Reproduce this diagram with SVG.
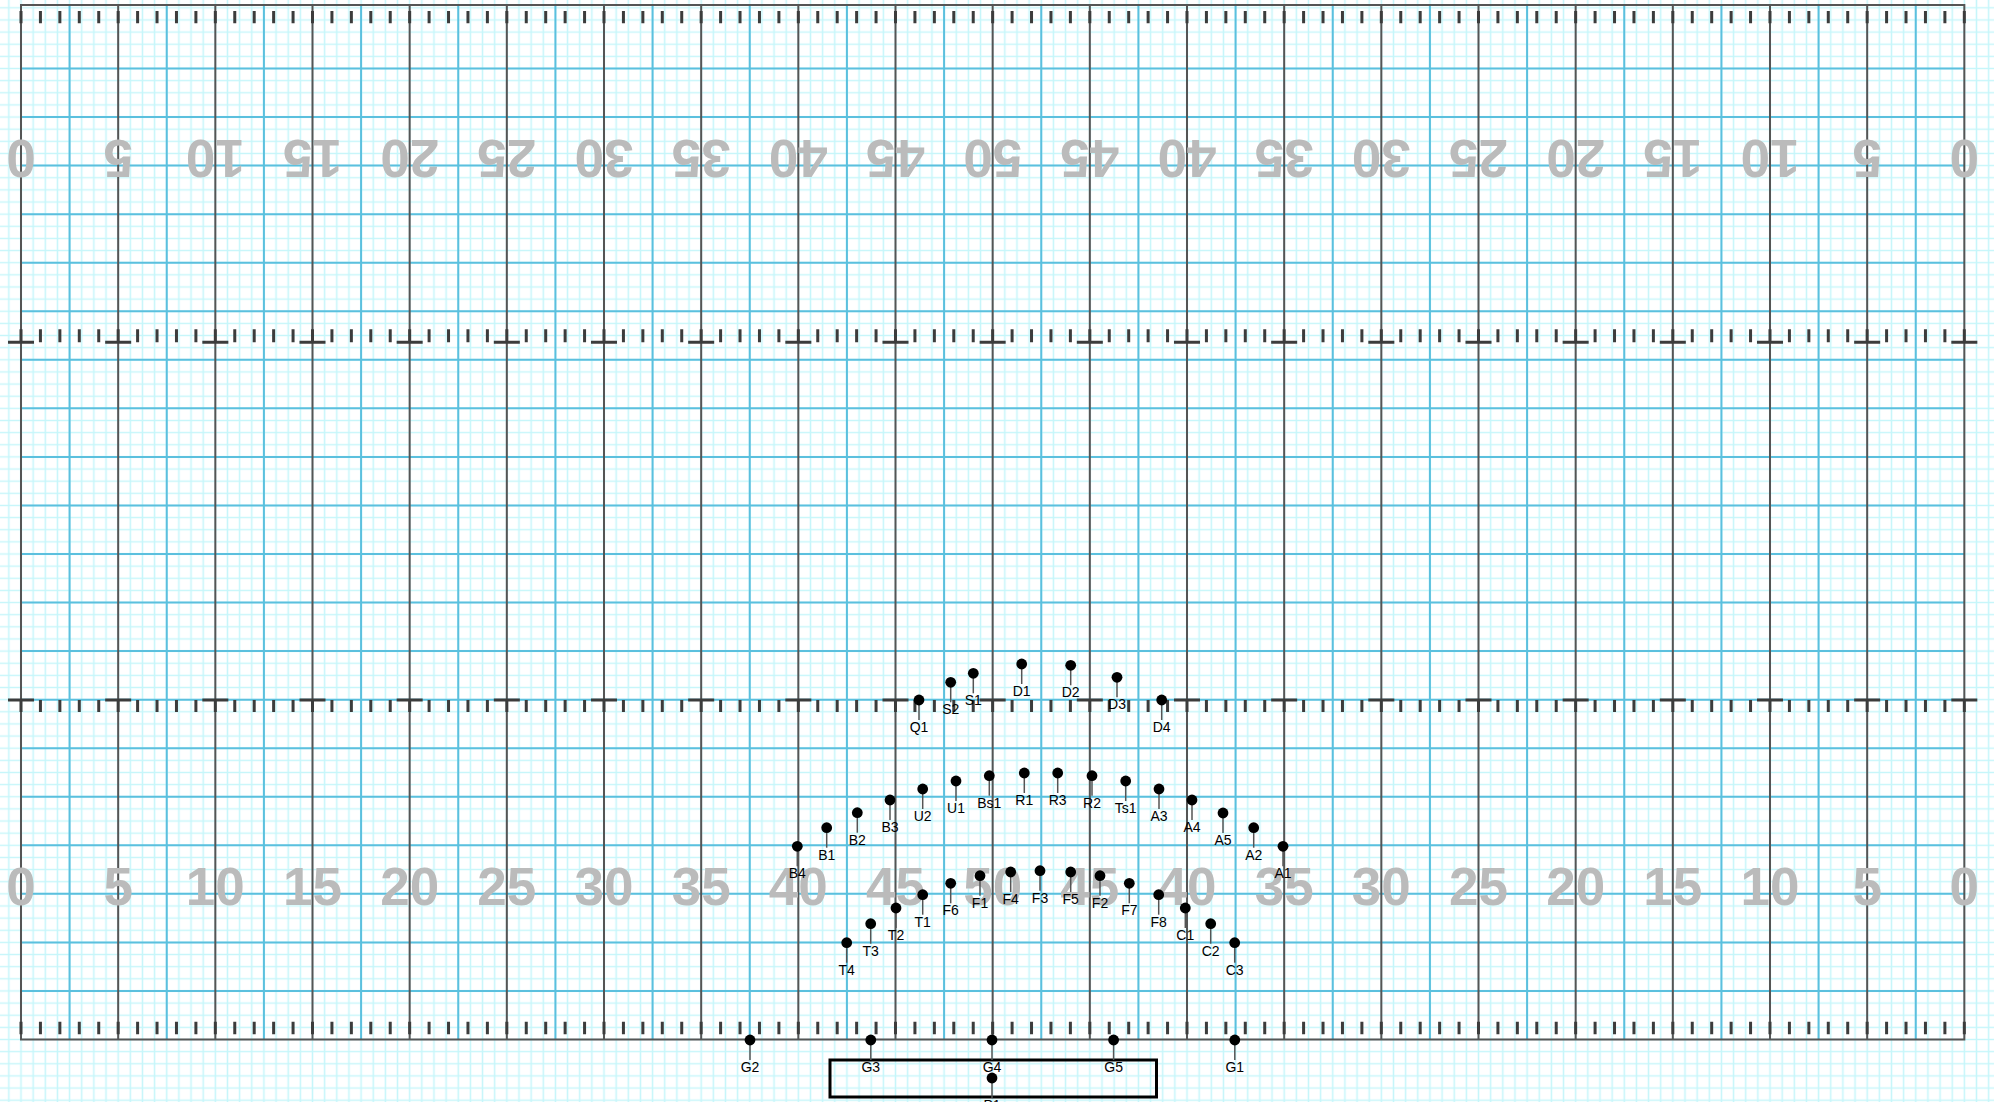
<svg xmlns="http://www.w3.org/2000/svg" width="1994" height="1102" viewBox="0 0 1994 1102">
<style>
.dark{stroke:#555;stroke-width:2;fill:none}
.blue{stroke:#5bc0de;stroke-width:2;fill:none}
.tick{stroke:#3c3c3c;fill:none;stroke-dasharray:3 16.4332}
.bar{stroke:#3c3c3c;fill:none;stroke-width:3;stroke-dasharray:26 71.166}
.num{font-family:"Liberation Sans",Arial,sans-serif;font-weight:bold;font-size:53px;fill:#bbbbbb;text-anchor:middle}
.dot{fill:#000}
.lead{stroke:#555;stroke-width:1.5}
.lbl{font-family:"Liberation Sans",Arial,sans-serif;font-size:14px;fill:#000;text-anchor:middle}
</style>
<defs>
<pattern id="fine" x="14.927" y="1033.431" width="12.146" height="12.1375" patternUnits="userSpaceOnUse">
<path d="M6.073 0V12.1375M0 6.069H12.146" stroke="#c6f6fa" stroke-width="1.5" fill="none"/>
</pattern>
</defs>
<rect x="0" y="0" width="1994" height="1102" fill="#fff"/>
<rect x="0" y="0" width="1994" height="1102" fill="url(#fine)"/>
<g id="field">
<path class="blue" d="M21 990.95H1964.33M21 942.4H1964.33M21 893.85H1964.33M21 845.3H1964.33M21 796.75H1964.33M21 748.2H1964.33M21 699.65H1964.33M21 651.1H1964.33M21 602.55H1964.33M21 554H1964.33M21 505.45H1964.33M21 456.9H1964.33M21 408.35H1964.33M21 359.8H1964.33M21 311.25H1964.33M21 262.7H1964.33M21 214.15H1964.33M21 165.6H1964.33M21 117.05H1964.33M21 68.5H1964.33"/>
<path class="blue" d="M69.58 5V1039.5M166.75 5V1039.5M263.92 5V1039.5M361.08 5V1039.5M458.25 5V1039.5M555.42 5V1039.5M652.58 5V1039.5M749.75 5V1039.5M846.92 5V1039.5M944.08 5V1039.5M1041.25 5V1039.5M1138.42 5V1039.5M1235.58 5V1039.5M1332.75 5V1039.5M1429.92 5V1039.5M1527.08 5V1039.5M1624.25 5V1039.5M1721.42 5V1039.5M1818.58 5V1039.5M1915.75 5V1039.5"/>
<path class="dark" d="M21 5V1039.5M118.17 5V1039.5M215.33 5V1039.5M312.5 5V1039.5M409.67 5V1039.5M506.83 5V1039.5M604 5V1039.5M701.17 5V1039.5M798.33 5V1039.5M895.5 5V1039.5M992.67 5V1039.5M1089.83 5V1039.5M1187 5V1039.5M1284.17 5V1039.5M1381.33 5V1039.5M1478.5 5V1039.5M1575.67 5V1039.5M1672.83 5V1039.5M1770 5V1039.5M1867.17 5V1039.5M1964.33 5V1039.5M20 5H1965.33M20 1039.5H1965.33"/>
</g>
<g id="yard-numbers">
<text class="num" transform="translate(21,140) rotate(180)">0</text>
<text class="num" transform="translate(118.17,140) rotate(180)">5</text>
<text class="num" transform="translate(215.33,140) rotate(180)">10</text>
<text class="num" transform="translate(312.5,140) rotate(180)">15</text>
<text class="num" transform="translate(409.67,140) rotate(180)">20</text>
<text class="num" transform="translate(506.83,140) rotate(180)">25</text>
<text class="num" transform="translate(604,140) rotate(180)">30</text>
<text class="num" transform="translate(701.17,140) rotate(180)">35</text>
<text class="num" transform="translate(798.33,140) rotate(180)">40</text>
<text class="num" transform="translate(895.5,140) rotate(180)">45</text>
<text class="num" transform="translate(992.67,140) rotate(180)">50</text>
<text class="num" transform="translate(1089.83,140) rotate(180)">45</text>
<text class="num" transform="translate(1187,140) rotate(180)">40</text>
<text class="num" transform="translate(1284.17,140) rotate(180)">35</text>
<text class="num" transform="translate(1381.33,140) rotate(180)">30</text>
<text class="num" transform="translate(1478.5,140) rotate(180)">25</text>
<text class="num" transform="translate(1575.67,140) rotate(180)">20</text>
<text class="num" transform="translate(1672.83,140) rotate(180)">15</text>
<text class="num" transform="translate(1770,140) rotate(180)">10</text>
<text class="num" transform="translate(1867.17,140) rotate(180)">5</text>
<text class="num" transform="translate(1964.33,140) rotate(180)">0</text>
<text class="num" x="21" y="904.5">0</text>
<text class="num" x="118.17" y="904.5">5</text>
<text class="num" x="215.33" y="904.5">10</text>
<text class="num" x="312.5" y="904.5">15</text>
<text class="num" x="409.67" y="904.5">20</text>
<text class="num" x="506.83" y="904.5">25</text>
<text class="num" x="604" y="904.5">30</text>
<text class="num" x="701.17" y="904.5">35</text>
<text class="num" x="798.33" y="904.5">40</text>
<text class="num" x="895.5" y="904.5">45</text>
<text class="num" x="992.67" y="904.5">50</text>
<text class="num" x="1089.83" y="904.5">45</text>
<text class="num" x="1187" y="904.5">40</text>
<text class="num" x="1284.17" y="904.5">35</text>
<text class="num" x="1381.33" y="904.5">30</text>
<text class="num" x="1478.5" y="904.5">25</text>
<text class="num" x="1575.67" y="904.5">20</text>
<text class="num" x="1672.83" y="904.5">15</text>
<text class="num" x="1770" y="904.5">10</text>
<text class="num" x="1867.17" y="904.5">5</text>
<text class="num" x="1964.33" y="904.5">0</text>
</g>
<g id="ticks">
<path class="tick" stroke-width="12.3" d="M19.5 17.2H1966"/>
<path class="tick" stroke-width="12.6" d="M19.5 1028H1966"/>
<path class="tick" stroke-width="13" d="M19.5 335.8H1966"/>
<path class="tick" stroke-width="12" d="M19.5 706H1966"/>
<path class="bar" d="M8 342.3H1978"/>
<path class="bar" d="M8 700H1978"/>
</g>
<rect id="box" x="830" y="1060" width="326.5" height="37" fill="none" stroke="#000" stroke-width="3"/>
<g id="performers">
<g id="Q1"><line class="lead" x1="919" y1="700" x2="919" y2="720"/><circle class="dot" cx="919" cy="700" r="5.4"/><text class="lbl" x="919" y="732">Q1</text></g>
<g id="S2"><line class="lead" x1="950.7" y1="682.3" x2="950.7" y2="702.3"/><circle class="dot" cx="950.7" cy="682.3" r="5.4"/><text class="lbl" x="950.7" y="714.3">S2</text></g>
<g id="S1"><line class="lead" x1="973.3" y1="673.3" x2="973.3" y2="693.3"/><circle class="dot" cx="973.3" cy="673.3" r="5.4"/><text class="lbl" x="973.3" y="705.3">S1</text></g>
<g id="D1"><line class="lead" x1="1021.7" y1="664" x2="1021.7" y2="684"/><circle class="dot" cx="1021.7" cy="664" r="5.4"/><text class="lbl" x="1021.7" y="696">D1</text></g>
<g id="D2"><line class="lead" x1="1070.7" y1="665.3" x2="1070.7" y2="685.3"/><circle class="dot" cx="1070.7" cy="665.3" r="5.4"/><text class="lbl" x="1070.7" y="697.3">D2</text></g>
<g id="D3"><line class="lead" x1="1117" y1="677.3" x2="1117" y2="697.3"/><circle class="dot" cx="1117" cy="677.3" r="5.4"/><text class="lbl" x="1117" y="709.3">D3</text></g>
<g id="D4"><line class="lead" x1="1161.7" y1="700" x2="1161.7" y2="720"/><circle class="dot" cx="1161.7" cy="700" r="5.4"/><text class="lbl" x="1161.7" y="732">D4</text></g>
<g id="B4"><line class="lead" x1="797.3" y1="846.3" x2="797.3" y2="866.3"/><circle class="dot" cx="797.3" cy="846.3" r="5.4"/><text class="lbl" x="797.3" y="878.3">B4</text></g>
<g id="B1"><line class="lead" x1="826.7" y1="827.7" x2="826.7" y2="847.7"/><circle class="dot" cx="826.7" cy="827.7" r="5.4"/><text class="lbl" x="826.7" y="859.7">B1</text></g>
<g id="B2"><line class="lead" x1="857.3" y1="812.7" x2="857.3" y2="832.7"/><circle class="dot" cx="857.3" cy="812.7" r="5.4"/><text class="lbl" x="857.3" y="844.7">B2</text></g>
<g id="B3"><line class="lead" x1="890" y1="800" x2="890" y2="820"/><circle class="dot" cx="890" cy="800" r="5.4"/><text class="lbl" x="890" y="832">B3</text></g>
<g id="U2"><line class="lead" x1="922.7" y1="789" x2="922.7" y2="809"/><circle class="dot" cx="922.7" cy="789" r="5.4"/><text class="lbl" x="922.7" y="821">U2</text></g>
<g id="U1"><line class="lead" x1="956" y1="781" x2="956" y2="801"/><circle class="dot" cx="956" cy="781" r="5.4"/><text class="lbl" x="956" y="813">U1</text></g>
<g id="Bs1"><line class="lead" x1="989.3" y1="775.7" x2="989.3" y2="795.7"/><circle class="dot" cx="989.3" cy="775.7" r="5.4"/><text class="lbl" x="989.3" y="807.7">Bs1</text></g>
<g id="R1"><line class="lead" x1="1024.3" y1="773" x2="1024.3" y2="793"/><circle class="dot" cx="1024.3" cy="773" r="5.4"/><text class="lbl" x="1024.3" y="805">R1</text></g>
<g id="R3"><line class="lead" x1="1057.7" y1="773" x2="1057.7" y2="793"/><circle class="dot" cx="1057.7" cy="773" r="5.4"/><text class="lbl" x="1057.7" y="805">R3</text></g>
<g id="R2"><line class="lead" x1="1092" y1="775.7" x2="1092" y2="795.7"/><circle class="dot" cx="1092" cy="775.7" r="5.4"/><text class="lbl" x="1092" y="807.7">R2</text></g>
<g id="Ts1"><line class="lead" x1="1125.7" y1="781" x2="1125.7" y2="801"/><circle class="dot" cx="1125.7" cy="781" r="5.4"/><text class="lbl" x="1125.7" y="813">Ts1</text></g>
<g id="A3"><line class="lead" x1="1159" y1="789" x2="1159" y2="809"/><circle class="dot" cx="1159" cy="789" r="5.4"/><text class="lbl" x="1159" y="821">A3</text></g>
<g id="A4"><line class="lead" x1="1192" y1="800" x2="1192" y2="820"/><circle class="dot" cx="1192" cy="800" r="5.4"/><text class="lbl" x="1192" y="832">A4</text></g>
<g id="A5"><line class="lead" x1="1223" y1="813" x2="1223" y2="833"/><circle class="dot" cx="1223" cy="813" r="5.4"/><text class="lbl" x="1223" y="845">A5</text></g>
<g id="A2"><line class="lead" x1="1253.7" y1="827.7" x2="1253.7" y2="847.7"/><circle class="dot" cx="1253.7" cy="827.7" r="5.4"/><text class="lbl" x="1253.7" y="859.7">A2</text></g>
<g id="A1"><line class="lead" x1="1283" y1="846.3" x2="1283" y2="866.3"/><circle class="dot" cx="1283" cy="846.3" r="5.4"/><text class="lbl" x="1283" y="878.3">A1</text></g>
<g id="T4"><line class="lead" x1="846.7" y1="942.7" x2="846.7" y2="962.7"/><circle class="dot" cx="846.7" cy="942.7" r="5.4"/><text class="lbl" x="846.7" y="974.7">T4</text></g>
<g id="T3"><line class="lead" x1="870.7" y1="923.7" x2="870.7" y2="943.7"/><circle class="dot" cx="870.7" cy="923.7" r="5.4"/><text class="lbl" x="870.7" y="955.7">T3</text></g>
<g id="T2"><line class="lead" x1="896" y1="908" x2="896" y2="928"/><circle class="dot" cx="896" cy="908" r="5.4"/><text class="lbl" x="896" y="940">T2</text></g>
<g id="T1"><line class="lead" x1="922.7" y1="894.7" x2="922.7" y2="914.7"/><circle class="dot" cx="922.7" cy="894.7" r="5.4"/><text class="lbl" x="922.7" y="926.7">T1</text></g>
<g id="F6"><line class="lead" x1="950.7" y1="883.3" x2="950.7" y2="903.3"/><circle class="dot" cx="950.7" cy="883.3" r="5.4"/><text class="lbl" x="950.7" y="915.3">F6</text></g>
<g id="F1"><line class="lead" x1="980" y1="875.7" x2="980" y2="895.7"/><circle class="dot" cx="980" cy="875.7" r="5.4"/><text class="lbl" x="980" y="907.7">F1</text></g>
<g id="F4"><line class="lead" x1="1010.7" y1="872" x2="1010.7" y2="892"/><circle class="dot" cx="1010.7" cy="872" r="5.4"/><text class="lbl" x="1010.7" y="904">F4</text></g>
<g id="F3"><line class="lead" x1="1040" y1="870.7" x2="1040" y2="890.7"/><circle class="dot" cx="1040" cy="870.7" r="5.4"/><text class="lbl" x="1040" y="902.7">F3</text></g>
<g id="F5"><line class="lead" x1="1070.7" y1="872" x2="1070.7" y2="892"/><circle class="dot" cx="1070.7" cy="872" r="5.4"/><text class="lbl" x="1070.7" y="904">F5</text></g>
<g id="F2"><line class="lead" x1="1100" y1="875.7" x2="1100" y2="895.7"/><circle class="dot" cx="1100" cy="875.7" r="5.4"/><text class="lbl" x="1100" y="907.7">F2</text></g>
<g id="F7"><line class="lead" x1="1129.3" y1="883.3" x2="1129.3" y2="903.3"/><circle class="dot" cx="1129.3" cy="883.3" r="5.4"/><text class="lbl" x="1129.3" y="915.3">F7</text></g>
<g id="F8"><line class="lead" x1="1158.7" y1="894.7" x2="1158.7" y2="914.7"/><circle class="dot" cx="1158.7" cy="894.7" r="5.4"/><text class="lbl" x="1158.7" y="926.7">F8</text></g>
<g id="C1"><line class="lead" x1="1185.3" y1="908" x2="1185.3" y2="928"/><circle class="dot" cx="1185.3" cy="908" r="5.4"/><text class="lbl" x="1185.3" y="940">C1</text></g>
<g id="C2"><line class="lead" x1="1210.7" y1="923.7" x2="1210.7" y2="943.7"/><circle class="dot" cx="1210.7" cy="923.7" r="5.4"/><text class="lbl" x="1210.7" y="955.7">C2</text></g>
<g id="C3"><line class="lead" x1="1234.7" y1="942.7" x2="1234.7" y2="962.7"/><circle class="dot" cx="1234.7" cy="942.7" r="5.4"/><text class="lbl" x="1234.7" y="974.7">C3</text></g>
<g id="G2"><line class="lead" x1="750" y1="1040" x2="750" y2="1060"/><circle class="dot" cx="750" cy="1040" r="5.4"/><text class="lbl" x="750" y="1072">G2</text></g>
<g id="G3"><line class="lead" x1="870.8" y1="1040" x2="870.8" y2="1060"/><circle class="dot" cx="870.8" cy="1040" r="5.4"/><text class="lbl" x="870.8" y="1072">G3</text></g>
<g id="G4"><line class="lead" x1="992" y1="1040" x2="992" y2="1060"/><circle class="dot" cx="992" cy="1040" r="5.4"/><text class="lbl" x="992" y="1072">G4</text></g>
<g id="G5"><line class="lead" x1="1113.6" y1="1040" x2="1113.6" y2="1060"/><circle class="dot" cx="1113.6" cy="1040" r="5.4"/><text class="lbl" x="1113.6" y="1072">G5</text></g>
<g id="G1"><line class="lead" x1="1234.8" y1="1040" x2="1234.8" y2="1060"/><circle class="dot" cx="1234.8" cy="1040" r="5.4"/><text class="lbl" x="1234.8" y="1072">G1</text></g>
<g id="P1"><line class="lead" x1="992" y1="1078" x2="992" y2="1098"/><circle class="dot" cx="992" cy="1078" r="5.4"/><text class="lbl" x="992" y="1110">P1</text></g>
</g>
</svg>
